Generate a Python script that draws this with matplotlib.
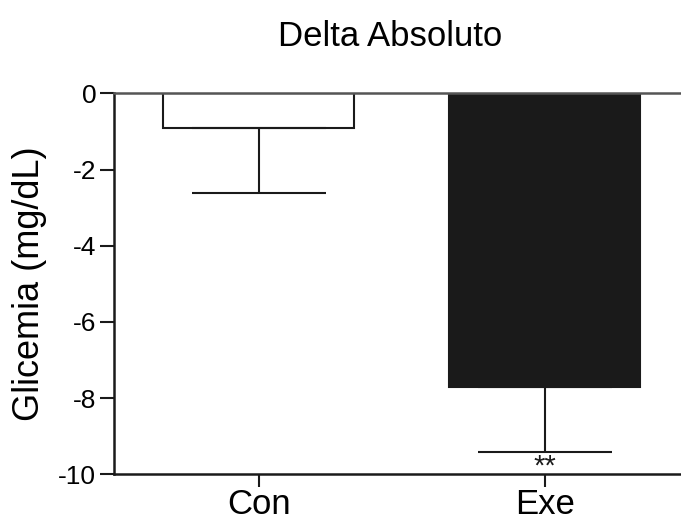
import matplotlib
matplotlib.use("Agg")
import matplotlib.pyplot as plt

categories = ["Con", "Exe"]
means = [-0.90, -7.70]
sems = [1.72, 1.71]
colors = ["white", "#1a1a1a"]
yticks = [0, -2, -4, -6, -8, -10]
title = "Delta Absoluto"
ylabel = "Glicemia (mg/dL)"
sig = ["", "**"]

plt.rcParams["font.family"] = ["Liberation Sans", "DejaVu Sans"]

fig = plt.figure(figsize=(6.81, 5.21), dpi=100)
ax = fig.add_axes([0.1678, 0.0896, 0.8322, 0.7313])

x = list(range(len(categories)))
ax.bar(x, means, width=0.67, color=colors, edgecolor="#1a1a1a", linewidth=1.5, zorder=2)
for xi, m, s in zip(x, means, sems):
    ax.errorbar([xi], [m], yerr=[[s], [0]], fmt="none", ecolor="#1a1a1a",
                elinewidth=1.5, capsize=48, capthick=1.5, zorder=3)
for xi, m, s, t in zip(x, means, sems, sig):
    if t:
        ax.text(xi, m - s - 0.02, t, ha="center", va="top", fontsize=21, color="#1a1a1a")

ax.set_xlim(-0.505, 1.477)
ax.set_ylim(-10, 0)
ax.set_yticks(yticks)
ax.set_yticklabels([str(v) for v in yticks])
ax.set_xticks(x)
ax.set_xticklabels(categories)
ax.tick_params(axis="y", labelsize=19, length=10, width=1.5, color="#1a1a1a", pad=3)
ax.tick_params(axis="x", labelsize=25, length=9, width=1.5, color="#1a1a1a", pad=1)
for side in ["left", "bottom", "top"]:
    ax.spines[side].set_linewidth(1.8)
    ax.spines[side].set_color("#1a1a1a")
ax.spines["top"].set_color("#555555")
ax.spines["right"].set_visible(False)
ax.set_ylabel(ylabel, fontsize=26)
ax.yaxis.set_label_coords(-0.118, 0.5)
fig.text(0.573, 0.93, title, ha="center", va="center", fontsize=25)

fig.savefig("out.png", dpi=100)
